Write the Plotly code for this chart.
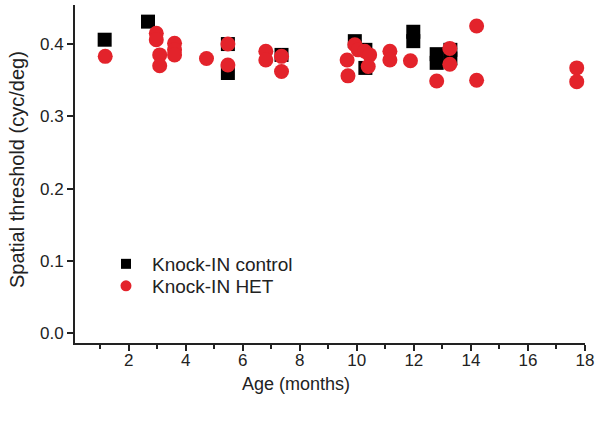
import plotly.graph_objects as go

# Knock-IN control (black squares)
ctrl_age = [1.16, 2.68, 5.48, 5.48, 7.36, 9.93, 10.3, 10.3, 11.98, 11.98, 12.8, 12.8, 13.28, 13.28]
ctrl_thr = [0.406, 0.431, 0.400, 0.360, 0.385, 0.404, 0.392, 0.367, 0.417, 0.404, 0.386, 0.374, 0.392, 0.380]

# Knock-IN HET (red circles)
het_age = [1.18, 2.97, 2.97, 3.09, 3.09, 3.61, 3.61, 3.61, 4.73, 5.48, 5.48,
           6.81, 6.81, 7.36, 7.36, 9.66, 9.69, 9.93, 10.05, 10.28, 10.45, 10.4,
           11.16, 11.16, 11.88, 12.8, 13.26, 13.26, 14.2, 14.2, 17.71, 17.71]
het_thr = [0.383, 0.415, 0.406, 0.385, 0.370, 0.401, 0.392, 0.385, 0.380, 0.400, 0.371,
           0.390, 0.378, 0.383, 0.362, 0.378, 0.356, 0.399, 0.392, 0.390, 0.385, 0.369,
           0.390, 0.378, 0.377, 0.349, 0.394, 0.372, 0.425, 0.350, 0.367, 0.348]

x_ticks = [2, 4, 6, 8, 10, 12, 14, 16, 18]
y_ticks = [0.0, 0.1, 0.2, 0.3, 0.4]

RED = "#e3232b"
FONT = "Liberation Sans, Arial, sans-serif"

fig = go.Figure()
fig.add_trace(go.Scatter(x=ctrl_age, y=ctrl_thr, mode="markers", showlegend=False,
                         marker=dict(symbol="square", size=14, color="black", line=dict(width=0))))
fig.add_trace(go.Scatter(x=het_age, y=het_thr, mode="markers", showlegend=False,
                         marker=dict(symbol="circle", size=15, color=RED, line=dict(width=0))))
# legend-only entries
fig.add_trace(go.Scatter(x=[None], y=[None], mode="markers", name="Knock-IN control",
                         legend="legend",
                         marker=dict(symbol="square", size=10, color="black")))
fig.add_trace(go.Scatter(x=[None], y=[None], mode="markers", name="Knock-IN HET",
                         legend="legend2",
                         marker=dict(symbol="circle", size=11, color=RED)))

leg_common = dict(xanchor="left", yanchor="top", font=dict(size=19),
                  bgcolor="rgba(0,0,0,0)", itemwidth=42)

fig.update_layout(
    width=602, height=426,
    margin=dict(l=75, r=17, t=5, b=83),
    paper_bgcolor="white", plot_bgcolor="white",
    font=dict(family=FONT, size=17, color="#222"),
    legend=dict(x=0.049, y=0.29, **leg_common),
    legend2=dict(x=0.049, y=0.29 - 22 / 338, **leg_common),
    xaxis=dict(range=[0.12, 18], showgrid=False, zeroline=False,
               showline=True, linecolor="#222", linewidth=2,
               ticks="outside", ticklen=6, tickwidth=2, tickcolor="#222",
               ticklabelstandoff=-5,
               tickvals=x_ticks, ticktext=[str(v) for v in x_ticks],
               minor=dict(tickvals=[1, 3, 5, 7, 9, 11, 13, 15, 17], ticks="outside",
                          ticklen=4, tickwidth=2, tickcolor="#222")),
    yaxis=dict(range=[-0.0134, 0.454], showgrid=False, zeroline=False,
               showline=True, linecolor="#222", linewidth=2,
               ticks="outside", ticklen=6, tickwidth=2, tickcolor="#222",
               tickvals=y_ticks, ticktext=["%.1f" % v for v in y_ticks]),
    annotations=[
        dict(text="Age (months)", xref="paper", yref="paper",
             x=(296 - 75) / 510, y=-(384 - 343) / 338, xanchor="center", yanchor="middle",
             showarrow=False, font=dict(size=18)),
        dict(text="Spatial threshold (cyc/deg)", xref="paper", yref="paper",
             x=-(75 - 17) / 510, y=(343 - 170) / 338, xanchor="center", yanchor="middle",
             textangle=-90, showarrow=False, font=dict(size=20)),
    ],
)

fig.write_html("out.html", config={"displayModeBar": False},
               post_script="document.body.style.margin='0';")
